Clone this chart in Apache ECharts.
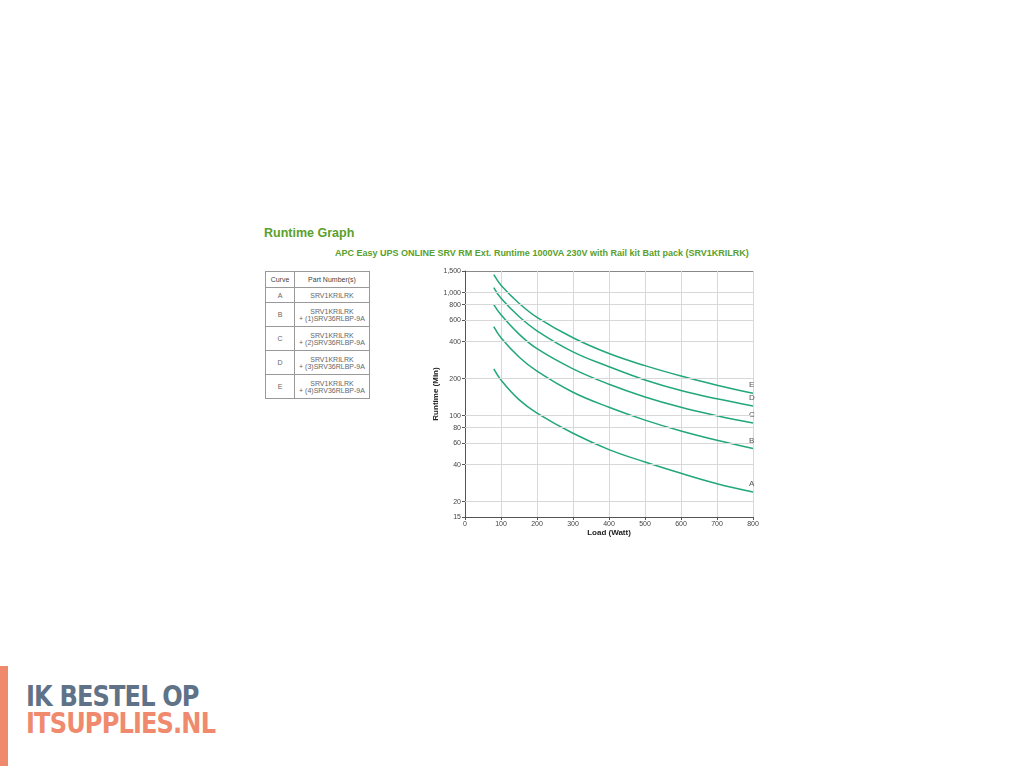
<!DOCTYPE html>
<html><head><meta charset="utf-8">
<script src="https://cdn.jsdelivr.net/npm/echarts@6/dist/echarts.min.js"></script>
<style>
body{margin:0;width:1024px;height:768px;background:#fff;font-family:Arial,"Liberation Sans",sans-serif;position:relative;overflow:hidden}
#c{position:absolute;left:0;top:0;width:1024px;height:768px;z-index:2}
h1{position:absolute;left:264px;top:226px;margin:0;font-size:12.5px;color:#5aa02c;font-weight:bold}
.sub{position:absolute;left:335px;top:248px;font-size:9px;color:#5aa02c;font-weight:bold}
table{position:absolute;left:265px;top:271px;border-collapse:collapse;font-size:7px;color:#666}
td,th{border:1px solid #999;text-align:center;padding:0}
th{height:15px;font-weight:normal;color:#444}
.bar{position:absolute;left:0;top:666px;width:8px;height:100px;background:#f08a6e}
.l1,.l2{position:absolute;left:26px;font-size:28px;font-weight:900;letter-spacing:-1px;font-family:"DejaVu Sans",sans-serif;transform:scaleX(0.86);transform-origin:left top}
.l1{top:680px;color:#5f7287}.l2{top:707px;color:#f08a6e}
</style></head><body>
<div style="position:absolute;left:753px;top:271px;width:1px;height:246px;background:#888"></div>
<div style="position:absolute;left:465px;top:271px;width:288px;height:1px;background:#888"></div>
<div id="c"></div>
<h1>Runtime Graph</h1>
<div class="sub">APC Easy UPS ONLINE SRV RM Ext. Runtime 1000VA 230V with Rail kit Batt pack (SRV1KRILRK)</div>
<table>
<tr><th style="width:28px">Curve</th><th style="width:74px">Part Number(s)</th></tr>
<tr><td style="height:14px">A</td><td>SRV1KRILRK</td></tr>
<tr><td style="height:23px">B</td><td>SRV1KRILRK<br>+ (1)SRV36RLBP-9A</td></tr>
<tr><td style="height:23px">C</td><td>SRV1KRILRK<br>+ (2)SRV36RLBP-9A</td></tr>
<tr><td style="height:23px">D</td><td>SRV1KRILRK<br>+ (3)SRV36RLBP-9A</td></tr>
<tr><td style="height:23px">E</td><td>SRV1KRILRK<br>+ (4)SRV36RLBP-9A</td></tr>
</table>
<div class="bar"></div>
<div class="l1">IK BESTEL OP</div>
<div class="l2">ITSUPPLIES.NL</div>
<script>
const loads=[80,100,150,200,300,400,500,600,700,800];
const curveA=[240,195,135,105,72,53,42,34,28,24];
const curveB=[530,430,300,230,155,117,92,75,63,54];
const curveC=[800,660,460,350,240,180,142,117,100,87];
const curveD=[1100,900,640,490,330,250,195,160,137,120];
const curveE=[1400,1150,820,630,430,320,255,210,177,152];
const yTicks=[15,20,40,60,80,100,200,400,600,800,1000,1500];
const names=['A','B','C','D','E'];
const all=[curveA,curveB,curveC,curveD,curveE];
const ch=echarts.init(document.getElementById('c'));
const series=all.map((d,i)=>({name:names[i],type:'line',smooth:0.4,symbol:'none',
 data:d.map((v,j)=>[loads[j],v]),lineStyle:{color:'#22a878',width:1.5},
 endLabel:{show:true,formatter:names[i],color:'#555',fontSize:8,offset:[-12,-8]}}));
series.push({type:'line',data:[],markLine:{silent:true,symbol:'none',label:{show:false},
 lineStyle:{color:'#d8d8d8',type:'solid',width:1},data:yTicks.slice(1,-1).map(v=>({yAxis:v}))}});
ch.setOption({animation:false,
 grid:{left:465,right:271,top:271,bottom:251},
 xAxis:{type:'value',min:0,max:800,interval:100,name:'Load (Watt)',nameLocation:'middle',nameGap:12,
  nameTextStyle:{fontSize:8,fontWeight:'bold',color:'#222'},
  axisLine:{lineStyle:{color:'#555'}},axisTick:{length:3},axisLabel:{fontSize:7,color:'#444',margin:4},
  splitLine:{show:true,lineStyle:{color:'#d8d8d8'}}},
 yAxis:{type:'log',logBase:10,min:15,max:1500,name:'Runtime (Min)',nameLocation:'middle',nameGap:18,
  nameTextStyle:{fontSize:8,fontWeight:'bold',color:'#222'},
  axisLine:{show:true,lineStyle:{color:'#555'}},
  axisTick:{show:true,length:3,customValues:yTicks},
  axisLabel:{fontSize:7,color:'#444',margin:4,customValues:yTicks,formatter:v=>v.toLocaleString('en-US')},
  splitLine:{show:false}},
 series});
</script>
</body></html>
